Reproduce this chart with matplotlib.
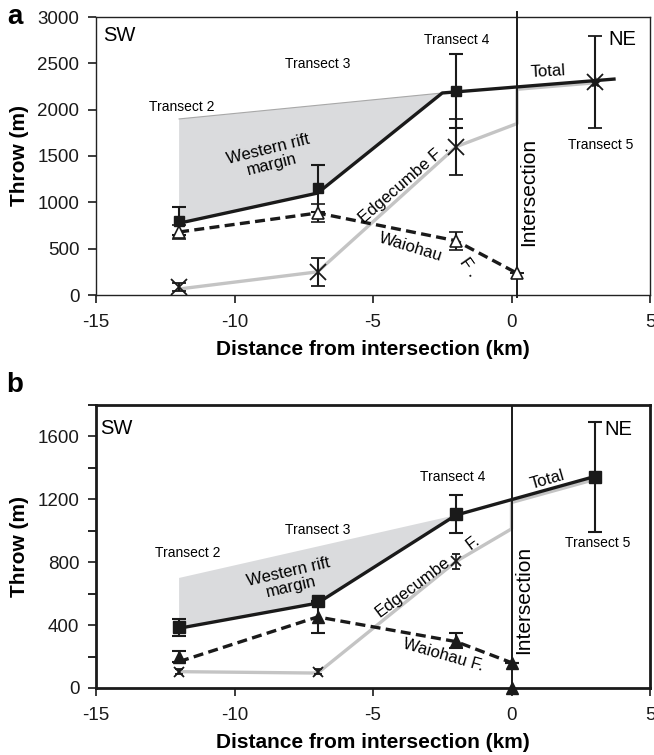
import numpy as np
import matplotlib
matplotlib.use("Agg")
import matplotlib.pyplot as plt
from matplotlib.ticker import MultipleLocator

plt.rcParams['font.family'] = ['Liberation Sans', 'DejaVu Sans']
plt.rcParams['axes.unicode_minus'] = False

# ---------------- panel a data ----------------
a_total_line_x = [-12, -7, -2.5, 3.7]
a_total_line_y = [775, 1100, 2180, 2330]
a_total_x = [-12, -7, -2]
a_total_y = [800, 1150, 2200]
a_total_err = [150, 250, 400]
a_t5_x = [3]
a_t5_y = [2300]
a_t5_err = [500]

a_wai_x = [-12, -7, -2, 0.2]
a_wai_y = [680, 885, 585, 235]
a_wai_err = [80, 100, 100, 0]

a_edg_line_x = [-12, -7, -2, 0.2, 0.2, 3]
a_edg_line_y = [65, 250, 1600, 1850, 2220, 2290]
a_edg_x = [-12, -7, -2]
a_edg_y = [85, 250, 1600]
a_edg_err = [40, 150, 300]

a_fill_x = [-12, -12, -7, -2.5]
a_fill_y = [1900, 775, 1100, 2180]
a_inter_x = 0.2

# ---------------- panel b data ----------------
b_total_x = [-12, -7, -2, 3]
b_total_line_y = [380, 540, 1100, 1345]
b_total_y = [385, 555, 1105, 1345]
b_total_err = [57, 0, 120, 350]

b_wai_x = [-12, -7, -2, 0]
b_wai_line_y = [168, 452, 295, 161]
b_wai_y = [200, 450, 300, 161]
b_wai_err = [33, 100, 47, 0]

b_edg_line_x = [-12, -7, -2, 0, 0, 3]
b_edg_line_y = [104, 95, 805, 1012, 1180, 1326]
b_edg_x = [-12, -7, -2]
b_edg_y = [104, 104, 805]
b_edg_err = [18, 18, 45]

b_fill_x = [-12, -12, -7, -2]
b_fill_y = [700, 380, 540, 1100]
b_inter_x = 0.0

W, H = 654, 755
fig = plt.figure(figsize=(W / 100, H / 100), dpi=100)

ax_a = fig.add_axes([96 / W, 1 - 295 / H, 554 / W, 278 / H])
ax_b = fig.add_axes([96 / W, 1 - 688 / H, 554 / W, 283 / H])

gray = '#c4c4c4'
fillc = '#dadbdd'
blk = '#1a1a1a'

# ---------- panel a ----------
ax = ax_a
ax.fill(a_fill_x, a_fill_y, color=fillc, lw=0, zorder=1)
ax.plot([a_fill_x[0], a_fill_x[-1]], [a_fill_y[0], a_fill_y[-1]], color='#a8a8a8', lw=0.8, zorder=1.5)
ax.plot(a_edg_line_x, a_edg_line_y, color=gray, lw=2.4, zorder=2)
ax.plot(a_wai_x, a_wai_y, color=blk, lw=2.4, ls=(0, (3, 1.6)), zorder=3)
ax.plot(a_total_line_x, a_total_line_y, color=blk, lw=2.4, zorder=4)
ax.errorbar(a_total_x, a_total_y, yerr=a_total_err, fmt='s', color=blk, ms=7,
            capsize=5, elinewidth=1.5, capthick=1.5, zorder=5)
ax.errorbar(a_wai_x, a_wai_y, yerr=a_wai_err, fmt='^', mfc='white', mec=blk, ecolor=blk,
            ms=8, mew=1.2, capsize=5, elinewidth=1.5, capthick=1.5, zorder=5)
ax.errorbar(a_edg_x, a_edg_y, yerr=a_edg_err, fmt='x', color=blk, ms=12, mew=1.3,
            capsize=5, elinewidth=1.5, capthick=1.5, zorder=5)
ax.errorbar(a_t5_x, a_t5_y, yerr=a_t5_err, fmt='x', color=blk, ms=11, mew=1.3,
            capsize=5, elinewidth=1.5, capthick=1.5, zorder=5)
ax.plot(a_t5_x, a_t5_y, '*', color=blk, ms=7, zorder=6)
ax.plot([a_inter_x, a_inter_x], [-20, 3050], color=blk, lw=1.4, clip_on=False, zorder=4)

ax.set_xlim(-15, 5)
ax.set_ylim(0, 3000)
ax.set_yticks(np.arange(0, 3001, 500))
ax.set_xticks([-15, -10, -5, 0, 5])
for s in ax.spines.values():
    s.set_linewidth(1.0)
    s.set_color('#222222')

ax.text(-14.75, 2800, 'SW', fontsize=14.5, ha='left', va='center')
ax.text(3.99, 2762, 'NE', fontsize=14.5, ha='center', va='center')
ax.text(-11.9, 2028, 'Transect 2', fontsize=10, ha='center', va='center')
ax.text(-6.99, 2493, 'Transect 3', fontsize=10, ha='center', va='center')
ax.text(-1.97, 2752, 'Transect 4', fontsize=10, ha='center', va='center')
ax.text(3.23, 1619, 'Transect 5', fontsize=10, ha='center', va='center')
ax.text(1.32, 2406, 'Total', fontsize=12, ha='center', va='center', rotation=3)
ax.text(-8.72, 1489, 'Western rift\nmargin', fontsize=12, ha='center', va='center',
        rotation=14, linespacing=1.0)
ax.text(-3.88, 1208, 'Edgecumbe F .', fontsize=12, ha='center', va='center', rotation=41)
ax.text(-3.66, 518, 'Waiohau', fontsize=12, ha='center', va='center', rotation=-17)
ax.text(-1.57, 302, 'F .', fontsize=12, ha='center', va='center', rotation=-55)
ax.text(0.63, 1111, 'Intersection', fontsize=15, ha='center', va='center', rotation=90)

# ---------- panel b ----------
ax = ax_b
ax.fill(b_fill_x, b_fill_y, color=fillc, lw=0, zorder=1)
ax.plot(b_edg_line_x, b_edg_line_y, color=gray, lw=2.4, zorder=2)
ax.plot(b_wai_x, b_wai_line_y, color=blk, lw=2.4, ls=(0, (3, 1.6)), zorder=3)
ax.plot(b_total_x, b_total_line_y, color=blk, lw=2.4, zorder=4)
ax.errorbar(b_total_x, b_total_y, yerr=b_total_err, fmt='s', color=blk, ms=8,
            capsize=5, elinewidth=1.5, capthick=1.5, zorder=5)
ax.errorbar(b_wai_x, b_wai_y, yerr=b_wai_err, fmt='^', color=blk,
            ms=9, capsize=5, elinewidth=1.5, capthick=1.5, zorder=5)
ax.errorbar(b_edg_x, b_edg_y, yerr=b_edg_err, fmt='x', color=blk, ms=7, mew=1.3,
            capsize=3, elinewidth=1.2, capthick=1.2, zorder=5)
ax.plot([b_inter_x], [0], '^', color=blk, ms=8, clip_on=False, zorder=6)
ax.plot([b_inter_x, b_inter_x], [0, 1800], color=blk, lw=1.4, zorder=4)

ax.set_xlim(-15, 5)
ax.set_ylim(0, 1800)
ax.set_yticks(np.arange(0, 1601, 400))
ax.yaxis.set_minor_locator(MultipleLocator(200))
ax.set_xticks([-15, -10, -5, 0, 5])
for s in ax.spines.values():
    s.set_linewidth(2.0)
    s.set_color(blk)

ax.text(-14.86, 1651, 'SW', fontsize=14.5, ha='left', va='center')
ax.text(3.84, 1645, 'NE', fontsize=14.5, ha='center', va='center')
ax.text(-11.7, 861, 'Transect 2', fontsize=10, ha='center', va='center')
ax.text(-7.0, 1007, 'Transect 3', fontsize=10, ha='center', va='center')
ax.text(-2.11, 1339, 'Transect 4', fontsize=10, ha='center', va='center')
ax.text(3.12, 924, 'Transect 5', fontsize=10, ha='center', va='center')
ax.text(1.28, 1326, 'Total', fontsize=12, ha='center', va='center', rotation=16)
ax.text(-8.0, 688, 'Western rift\nmargin', fontsize=12, ha='center', va='center',
        rotation=13, linespacing=1.0)
ax.text(-3.56, 644, 'Edgecumbe', fontsize=12, ha='center', va='center', rotation=37)
ax.text(-1.39, 924, 'F.', fontsize=12, ha='center', va='center', rotation=37)
ax.text(-2.47, 210, 'Waiohau F.', fontsize=12, ha='center', va='center', rotation=-16)
ax.text(0.45, 561, 'Intersection', fontsize=15, ha='center', va='center', rotation=90)

for ax in (ax_a, ax_b):
    ax.tick_params(axis='both', which='major', labelsize=13.5, direction='out', length=6,
                   width=1.2, colors=blk)
    ax.tick_params(axis='x', which='major', pad=8)
    ax.tick_params(axis='y', which='major', pad=6)
    ax.tick_params(axis='y', which='minor', direction='out', length=6, width=1.2)
    ax.set_ylabel('Throw (m)', fontsize=15, fontweight='bold', labelpad=6)
    ax.set_xlabel('Distance from intersection (km)', fontsize=15, fontweight='bold', labelpad=6)

fig.text(15 / W, 1 - 17 / H, 'a', fontsize=20, fontweight='bold', ha='center', va='center')
fig.text(15 / W, 1 - 385 / H, 'b', fontsize=20, fontweight='bold', ha='center', va='center')

fig.savefig('out.png', dpi=100)
